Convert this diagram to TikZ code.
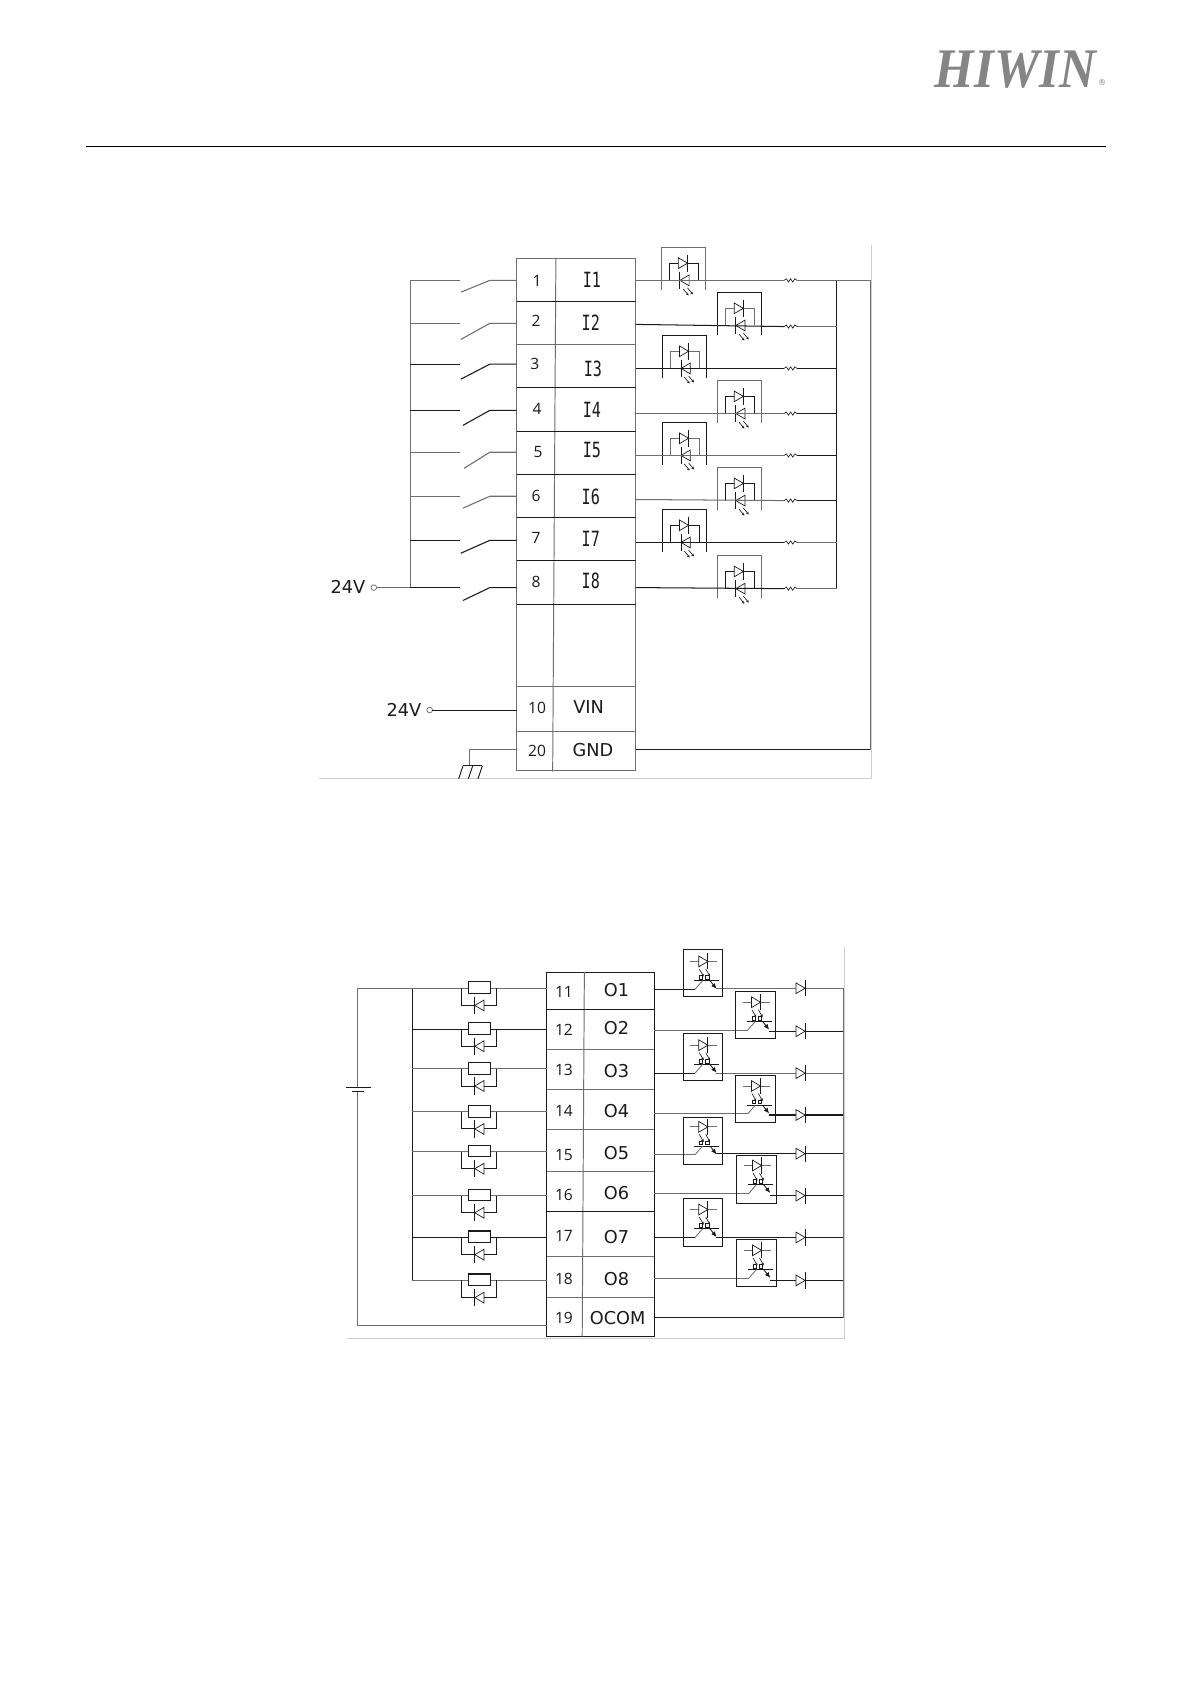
\documentclass[tikz,border=0pt]{standalone}
\usepackage{fontspec}
\setmainfont{Liberation Sans}
\newfontfamily\logofont{Liberation Serif}
\newfontfamily\termfont{Open Sans}
\newfontfamily\dvfont{DejaVu Sans}
\newfontfamily\monof{DejaVu Sans Mono}
\usetikzlibrary{arrows.meta}
\definecolor{wg}{HTML}{6E6E6E}
\definecolor{wk}{HTML}{1A1A1A}
\definecolor{fr}{HTML}{CFCFCF}
\tikzset{
  wire/.style={line width=0.9pt,draw=wk},
  gwire/.style={line width=1pt,draw=wg},
  thin wire/.style={line width=0.6pt,draw=wk},
  frameline/.style={line width=0.9pt,draw=fr},
  pinlabel/.style={inner sep=0pt,font=\termfont\fontsize{14.5}{15}\selectfont,text=wk},
  iolabel/.style={inner sep=0pt,xscale=0.72,font=\monof\fontsize{19.5}{20}\selectfont,text=wk},
  siglabel/.style={inner sep=0pt,font=\dvfont\fontsize{16.5}{18}\selectfont,text=wk},
  ledarrow/.style={line width=0.6pt,draw=wk,-{Stealth[length=2.5pt,width=2.5pt]}}
}
\newcommand{\dio}[5]{% x of bar, y, dir, half bar, colour
  \draw[line width=0.65pt,draw=#5,fill=white] (#1,#2) -- ++({-(#3)*8.5},-5) -- ++(0,10) -- cycle;
  \draw[line width=0.9pt,draw=#5] (#1,#2-#4) -- (#1,#2+#4);
}
\newcommand{\zig}[2]{% left x, y
  \draw[thin wire] (#1,#2) -- ++(2,-1.5) -- ++(2,3) -- ++(2,-3) -- ++(2,3) -- ++(2,-3) -- ++(2,1.5);
}
\newcommand{\inopto}[4]{% box left x, wire y, box colour, inner colour
  \begin{scope}[shift={(#1,#2)}]
    \draw[line width=0.9pt,draw=#3] (0,9) -- (0,-31) -- (41,-31) -- (41,9);
    \draw[line width=0.9pt,draw=#4] (7,0) -- (7,-16) -- (34,-16) -- (34,0);
    \dio{24}{-16}{1}{8}{wk}
    \dio{17}{0}{-1}{8}{wk}
    \draw[ledarrow] (20,8) -- (25,14);
    \draw[ledarrow] (24,7) -- (29,13);
  \end{scope}
}
\newcommand{\outopto}[5]{% box left x, box top y, wire y(in), out y, colour
  \draw[line width=1pt,draw=#5] (#1,#2) rectangle ++(37,44);
  \begin{scope}[shift={(#1,#3)}]
    \draw[line width=0.7pt,draw=wg] (6.5,-26) -- (31.5,-26);
    \dio{23}{-26}{1}{7.5}{wk}
    \draw[ledarrow] (15,-19) -- (19,-12);
    \draw[ledarrow] (21,-19) -- (25,-12);
    \draw[line width=0.5pt,draw=wk] (15,-13) rectangle (18,-9.5) (21,-13) rectangle (24,-9.5);
    \draw[line width=1pt,draw=wk] (10.3,-8) -- (33.3,-8);
    \draw[line width=0.8pt,draw=wg] (11,0) -- (18,-8);
    \draw[line width=0.8pt,draw=wk,-{Latex[length=5pt,width=4.5pt]}] (25,-8) -- (31,-0.5);
  \end{scope}
}
\begin{document}
\begin{tikzpicture}[x=1pt,y=-1pt]
\useasboundingbox[fill=white] (0,0) rectangle (1108.7,1567.7);
% header
\node[inner sep=0pt,anchor=base west,text=black!48,xscale=0.91] (logo) at (870,81) {\logofont\bfseries\itshape\fontsize{52}{52}\selectfont HIWIN};
\node[inner sep=0pt,text=black!48,font=\dvfont\fontsize{8}{8}\selectfont] (reg) at (1026,77) {®};
\draw[line width=1pt,draw=black] (80,136) -- (1029.5,136);

% ---------- input diagram ----------
\draw[frameline] (811,228) -- (811,725) -- (297,725);
% terminal block
\draw[line width=0.9pt,draw=wg] (481,241) rectangle (592,717);
\draw[line width=0.9pt,draw=wg] (517.5,240) -- (514.5,718);
\foreach \yy/\cc in {281/wk,320.5/wg,361/wk,402/wk,442/wk,482/wk,522/wk,563/wk,639/wg,680.5/wg}{
  \draw[line width=0.9pt,draw=\cc] (481,\yy) -- (592,\yy);
}
% wire rails
\draw[gwire] (382,261) -- (382,547);
\draw[wire] (779,261) -- (779,548);
\draw[gwire] (779,261) -- (810,261) -- (810,698);
\draw[wire] (810,698) -- (592,698);
% optos
\inopto{616}{261}{wg}{wk}
\inopto{668}{303}{wk}{wg}
\inopto{617}{343}{wk}{wg}
\inopto{668}{385}{wg}{wk}
\inopto{617}{424}{wk}{wg}
\inopto{668}{466}{wg}{wk}
\inopto{617}{505}{wk}{wk}
\inopto{668}{548}{wg}{wk}
% rows
\foreach \n/\yl/\yb/\yr/\d/\ps/\pl/\il/\is/\bx/\ca/\cb/\cc in {
  1/261/261/261/11/500/262/551/261/429/wg/wg/wg,
  2/301/302/304/15/499/299/550/300/429/wg/wk/wg,
  3/339/343/343/14/498/339/552/343/429/wk/wk/wk,
  4/382/385/385/14/500/381/551/382/431/wk/wg/wk,
  5/421/424/424/15/501/421/551/419/432/wg/wg/wk,
  6/462/465/466/11/499/462/550/463/431/wg/wg/wk,
  7/503/505/505/12/499/501/550/502/429/wk/wk/wg,
  8/547/547/548/12/499/542/550/541/431/wk/wk/wg}{
  \node[pinlabel] (pin\n) at (\ps,\pl) {\n};
  \node[iolabel] (io\n) at (\il,\is) {I\n};
  \draw[line width=1pt,draw=\ca] (382,\yl) -- (428,\yl);
  \draw[line width=1pt,draw=\ca] (481,\yl) -- (456,\yl) -- (\bx,\yl+\d);
  \draw[line width=0.95pt,draw=\cb] (592,\yb) -- (730,\yr);
  \zig{730}{\yr}
  \draw[line width=0.95pt,draw=\cc] (742,\yr) -- (779,\yr);
}
% supply
\node[inner sep=0pt,font=\dvfont\fontsize{16.5}{18}\selectfont,text=wk] (v1) at (324,546) {24V};
\draw[line width=0.7pt,draw=wg] (348,547) circle (2.6);
\coordinate (c1) at (350.6,547);
\draw[gwire] (c1) -- (382,547);
\node[inner sep=0pt,font=\dvfont\fontsize{16.5}{18}\selectfont,text=wk] (v2) at (376,661) {24V};
\draw[line width=0.7pt,draw=wg] (400,661) circle (2.6);
\coordinate (c2) at (402.6,661);
\draw[wire] (c2) -- (481,661);
\node[pinlabel] (pin10) at (500,659) {10};
\node[siglabel] (vin) at (548,658) {VIN};
\node[pinlabel] (pin20) at (500,699) {20};
\node[siglabel] (gnd) at (552,698) {GND};
% ground
\draw[gwire] (481,698) -- (437,698) -- (437,713);
\draw[wire] (431,713) -- (449,713);
\draw[wire] (431,713) -- (427,725) (440,713) -- (436,725) (449,713) -- (445,725);

% ---------- output diagram ----------
\draw[frameline] (786.5,882) -- (786.5,1246) -- (323,1246);
\draw[line width=1pt,draw=wk] (509,905) rectangle (609,1244);
\draw[line width=0.9pt,draw=wg] (544,905) -- (542,1244);
\foreach \yy/\cc in {940/wk,977/wg,1014/wg,1051.5/wg,1090.5/wg,1128/wk,1170/wg,1208/wg}{
  \draw[line width=0.9pt,draw=\cc] (509,\yy) -- (609,\yy);
}
% rails
\draw[gwire] (509,1234) -- (333,1234) -- (333,1016);
\draw[wire] (322,1012) -- (345,1012);
\draw[wire] (328,1016.5) -- (339,1016.5);
\draw[gwire] (333,1012) -- (333,920) -- (384,920);
\draw[wire] (384,920) -- (384,1192);
\draw[gwire] (785,920) -- (785,1227);
\draw[wire] (609,1226.5) -- (785,1226.5);
% output rows
\foreach \n/\ny/\pl/\sl/\yl/\yi/\yo/\bx/\bt/\ci/\co/\cl in {
  1/11/923/922/920/921/920/636/884/wk/wg/wg,
  2/12/959/957/958/959/960/685/923/wg/wk/wk,
  3/13/996/997/995/999/999/636/962/wk/wg/wg,
  4/14/1034/1034/1035/1037/1038/685/1001/wg/wk/wg,
  5/15/1075/1073/1072/1075/1074/636/1040/wg/wk/wg,
  6/16/1112/1111/1113/1111/1113/686/1076/wg/wk/wg,
  7/17/1151/1152/1152/1152/1152/636/1116/wk/wk/wk,
  8/18/1191/1191/1192/1190/1192/686/1154/wg/wk/wg}{
  \node[pinlabel] (opin\n) at (525,\pl) {\ny};
  \node[siglabel] (osig\n) at (574,\sl) {O\n};
  % coil
  \draw[line width=1pt,draw=\cl] (384,\yl) -- (509,\yl);
  \draw[line width=1pt,draw=wk,fill=white] (436,\yl-6) rectangle ++(21,11);
  \draw[line width=0.9pt,draw=wk] (430,\yl) -- (430,\yl+16) -- (462,\yl+16) -- (462,\yl);
  \dio{442}{\yl+16}{-1}{8}{wk}
  % output
  \draw[line width=1pt,draw=\ci] (609,\yi) -- (\bx+11,\yi);
  \draw[line width=1pt,draw=\co] (\bx+31,\yo) -- (785,\yo);
  \dio{749.5}{\yo}{1}{7.5}{wk}
  \outopto{\bx}{\bt}{\yi}{\yo}{wk}
}
\node[pinlabel] (opin19) at (525,1227) {19};
\node[siglabel] (ocom) at (575,1227) {OCOM};
\end{tikzpicture}
\end{document}
